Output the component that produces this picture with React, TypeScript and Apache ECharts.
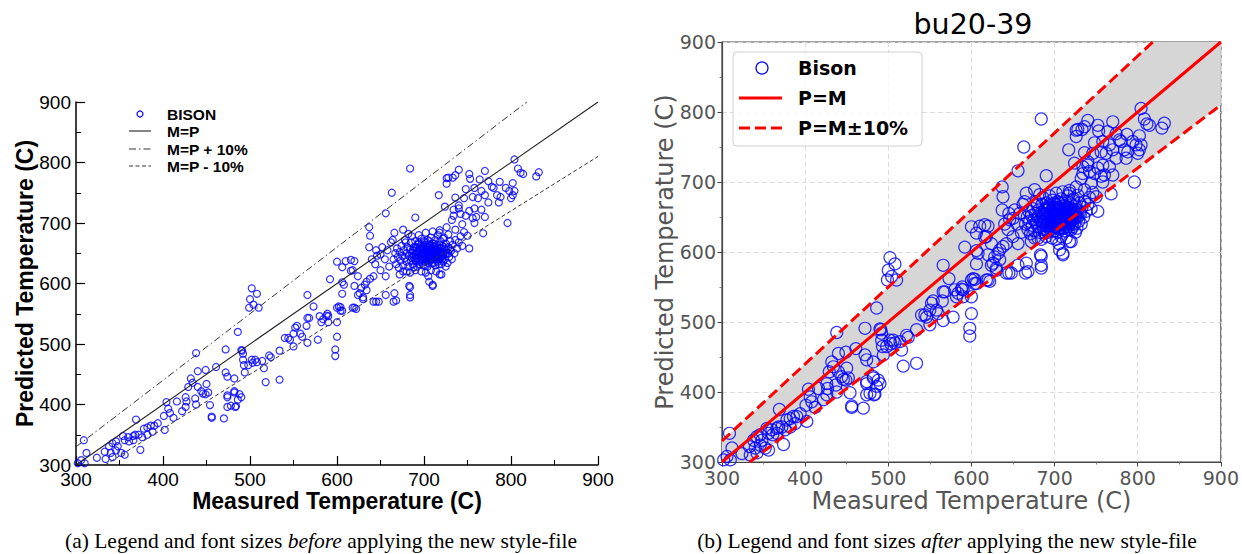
import React, { useEffect, useRef } from "react";
import * as echarts from "echarts";

// Axis range shared by both panels (degrees C)
const axisMin = 300;
const axisMax = 900;
const tickInterval = 100;

// Measured vs predicted temperatures for the BISON runs: [measured, predicted]
const lowRangePoints: [number, number][] = [
  [302, 303], [306, 308], [310, 303], [309, 341], [312, 320], [324, 312], [333, 322], [334, 310],
  [338, 331], [340, 320], [342, 313], [342, 336], [346, 324], [346, 339], [348, 331], [352, 320],
  [354, 348], [356, 317], [356, 341], [360, 346], [361, 339], [366, 341], [366, 348], [368, 350],
  [369, 375], [372, 350], [374, 325], [376, 346], [378, 360], [382, 350], [382, 362], [386, 365],
  [388, 355], [390, 365], [394, 369], [401, 381], [402, 358], [404, 404], [406, 393], [408, 386],
  [412, 378], [416, 405], [422, 389], [426, 396], [426, 412], [427, 405], [429, 429], [432, 443],
  [434, 436], [437, 410], [438, 400], [438, 485], [440, 429], [440, 455], [444, 422], [446, 418],
  [449, 417], [449, 457], [450, 434], [452, 420], [454, 399], [456, 378], [456, 380], [461, 462],
  [470, 377], [472, 491], [472, 453], [474, 446], [474, 396], [474, 412], [474, 415], [478, 398],
  [482, 443], [482, 420], [482, 422], [483, 396], [484, 397], [486, 408], [486, 520], [488, 417],
  [490, 412], [490, 490], [491, 489], [492, 484], [492, 474], [493, 465], [494, 453], [498, 465],
];

const midRangePoints: [number, number][] = [
  [499, 560], [500, 574], [502, 474], [502, 592], [503, 469], [504, 565], [506, 474], [508, 470],
  [508, 583], [510, 560], [514, 472], [516, 460], [518, 437], [522, 481], [524, 478], [534, 441],
  [534, 489], [540, 510], [544, 510], [546, 507], [550, 496], [550, 517], [552, 527], [554, 530],
  [558, 517], [560, 512], [565, 530], [566, 502], [566, 581], [566, 543], [568, 543], [573, 562],
  [578, 507], [580, 546], [582, 536], [584, 541], [588, 547], [590, 546], [590, 536], [589, 550],
  [592, 607], [598, 491], [598, 480], [600, 512], [600, 536], [600, 560], [600, 636], [602, 562],
  [604, 555], [604, 561], [606, 555], [606, 583], [606, 602], [606, 627], [608, 598], [610, 637],
  [616, 621], [616, 639], [618, 560], [618, 622], [620, 560], [620, 596], [620, 637], [622, 558],
  [624, 581], [624, 612], [626, 584], [628, 593], [630, 577], [630, 574], [632, 598], [634, 589],
  [634, 603], [637, 660], [637, 693], [638, 608], [638, 679], [642, 612], [642, 570], [645, 570],
  [646, 646], [648, 570], [650, 622], [656, 612], [656, 581], [656, 716], [663, 750], [664, 672],
  [665, 570], [666, 684], [666, 584], [668, 572], [672, 615], [676, 689], [680, 620], [682, 682],
  [683, 596], [684, 577], [684, 594], [684, 581], [684, 790], [688, 627], [690, 709], [705, 612],
  [706, 603], [710, 596], [710, 598], [718, 615], [640, 640], [644, 632], [650, 648], [652, 660],
  [655, 640], [658, 655], [660, 628], [662, 668], [645, 655],
];

const clusterPoints: [number, number][] = [
  [665, 640], [667, 650], [668, 632], [669, 658], [670, 644], [671, 626], [672, 652], [673, 638],
  [674, 662], [675, 646], [676, 630], [677, 655], [678, 642], [679, 668], [680, 650], [680, 636],
  [681, 660], [682, 628], [683, 646], [684, 656], [685, 638], [685, 668], [686, 650], [687, 632],
  [688, 660], [688, 644], [689, 654], [690, 638], [690, 670], [691, 648], [692, 628], [692, 660],
  [693, 642], [694, 652], [694, 666], [695, 636], [696, 646], [696, 658], [697, 674], [698, 640],
  [698, 650], [699, 630], [699, 662], [700, 645], [700, 655], [701, 668], [701, 636], [702, 650],
  [703, 642], [703, 660], [704, 628], [704, 672], [705, 648], [705, 656], [706, 638], [706, 664],
  [707, 650], [708, 644], [708, 676], [709, 634], [709, 658], [710, 652], [710, 666], [711, 640],
  [712, 648], [712, 660], [713, 630], [713, 672], [714, 654], [715, 644], [715, 664], [716, 636],
  [716, 680], [717, 650], [718, 658], [719, 642], [719, 670], [720, 632], [720, 652], [721, 662],
  [722, 646], [723, 676], [724, 640], [724, 656], [725, 666], [726, 650], [727, 634], [728, 660],
  [729, 644], [730, 670], [731, 654], [732, 640], [733, 664], [735, 650], [736, 672], [738, 658],
  [740, 668], [742, 678], [744, 662], [746, 685], [676, 620], [684, 618], [690, 622], [697, 620],
  [702, 618], [708, 622], [714, 620], [725, 628], [694, 680], [702, 684], [710, 686], [718, 688],
  [686, 678], [678, 672],
];

// Densest part of the cluster around 700 C
const clusterCorePoints: [number, number][] = [
  [686, 642], [687, 655], [689, 647], [690, 660], [691, 641], [692, 652], [693, 664], [694, 645],
  [695, 656], [696, 639], [697, 650], [697, 662], [698, 644], [699, 655], [700, 640], [700, 650],
  [700, 660], [701, 646], [702, 656], [702, 664], [703, 638], [703, 652], [704, 645], [704, 660],
  [705, 642], [705, 652], [706, 656], [706, 646], [707, 640], [707, 662], [708, 650], [708, 655],
  [709, 645], [709, 640], [710, 657], [710, 646], [711, 652], [711, 662], [712, 643], [712, 654],
  [713, 648], [713, 658], [714, 640], [714, 646], [715, 652], [716, 645], [716, 658], [717, 640],
  [718, 650], [718, 664], [719, 647], [720, 645], [720, 658], [721, 640], [722, 652], [723, 660],
  [724, 648], [726, 656], [728, 650], [730, 657], [691, 636], [695, 632], [701, 630], [705, 634],
  [711, 634], [717, 632], [694, 668], [700, 670], [706, 670], [712, 666],
];

const highRangePoints: [number, number][] = [
  [718, 684], [717, 746], [720, 615], [722, 636], [722, 674], [724, 727], [726, 693], [726, 765],
  [726, 774], [728, 681], [728, 775], [732, 705], [733, 775], [734, 712], [734, 722], [736, 779],
  [736, 742], [736, 689], [740, 724], [740, 729], [740, 788], [742, 715], [744, 698], [746, 741],
  [748, 712], [748, 756], [750, 679], [752, 720], [752, 658], [752, 781], [753, 773], [756, 708],
  [756, 743], [758, 724], [758, 758], [758, 700], [760, 710], [762, 741], [764, 772], [766, 722],
  [766, 753], [768, 683], [770, 746], [770, 710], [770, 786], [774, 769], [774, 734], [778, 760],
  [780, 758], [784, 746], [786, 734], [787, 768], [788, 743], [794, 758], [796, 700], [798, 753],
  [800, 741], [802, 746], [802, 766], [804, 753], [804, 805], [808, 790], [811, 783], [814, 781],
  [829, 777], [832, 784],
];

const bisonPoints: [number, number][] = [
  ...lowRangePoints,
  ...midRangePoints,
  ...clusterPoints,
  ...clusterCorePoints,
  ...highRangePoints,
];

// Reference lines: prediction equals measurement, and +/-10 % of it
const identityLine: [number, number][] = [[300, 300], [900, 900]];
const plusTenLine: [number, number][] = [[300, 330], [900 / 1.1, 900]];
const minusTenLine: [number, number][] = [[300 / 0.9, 300], [900, 810]];
// Shaded band between the two 10 % lines, within the plotted square
const bandVertices: [number, number][] = [
  [300, 300], [300, 330], [900 / 1.1, 900], [900, 900], [900, 810], [300 / 0.9, 300],
];

const BLUE = "#0000ff";
const RED = "#ff0000";

function leftAxis(name: string, isX: boolean) {
  return {
    gridIndex: 0,
    type: "value" as const,
    min: axisMin,
    max: axisMax,
    interval: tickInterval,
    name,
    nameLocation: "middle" as const,
    nameGap: isX ? 26 : 41,
    nameMoveOverlap: false,
    nameTextStyle: {
      color: "#000",
      fontSize: 23,
      lineHeight: 20,
      fontWeight: "bold" as const,
      fontFamily: "Liberation Sans",
    },
    axisLine: { show: true, lineStyle: { color: "#000", width: 1.5 } },
    axisTick: { show: true, inside: true, length: 9, lineStyle: { color: "#000", width: 1.2 } },
    minorTick: { show: true, splitNumber: 2, length: 5, lineStyle: { color: "#000", width: 1 } },
    splitLine: { show: false },
    axisLabel: {
      color: "#000",
      fontSize: 19,
      lineHeight: isX ? 15 : 13,
      fontFamily: "Liberation Sans",
      margin: isX ? 7 : 5,
    },
  };
}

function rightAxis(name: string, isX: boolean) {
  return {
    gridIndex: 1,
    type: "value" as const,
    min: axisMin,
    max: axisMax,
    interval: tickInterval,
    name,
    nameLocation: "middle" as const,
    nameGap: isX ? 27 : 45,
    nameMoveOverlap: false,
    nameTextStyle: {
      color: "#555",
      fontSize: 24,
      fontFamily: "DejaVu Sans",
    },
    axisLine: { show: true, lineStyle: { color: "#444", width: 1.2 } },
    axisTick: { show: true, inside: false, length: 4.5, lineStyle: { color: "#444", width: 1 } },
    minorTick: { show: true, splitNumber: 2, length: 2.5, lineStyle: { color: "#666", width: 0.8 } },
    splitLine: { show: true, lineStyle: { color: "#dcdcdc", width: 1, type: [5, 3] } },
    axisLabel: {
      color: "#555",
      fontSize: 19,
      fontFamily: "DejaVu Sans",
      margin: 6,
    },
  };
}

function refLine(
  data: [number, number][],
  gridIdx: number,
  color: string,
  width: number,
  type: any,
) {
  return {
    type: "line" as const,
    xAxisIndex: gridIdx,
    yAxisIndex: gridIdx,
    data,
    symbol: "none",
    showSymbol: false,
    silent: true,
    clip: true,
    z: 3,
    lineStyle: { color, width, type },
  };
}

export default function App() {
  const ref = useRef<HTMLDivElement>(null);

  useEffect(() => {
    if (!ref.current) return;
    const chart = echarts.init(ref.current, undefined, { renderer: "svg" });

    const legendTextLeft = {
      fill: "#000",
      fontSize: 15.5,
      fontWeight: "bold",
      fontFamily: "Liberation Sans",
      verticalAlign: "middle",
      align: "left",
    };
    const legendTextRight = {
      fill: "#000",
      fontSize: 19,
      fontWeight: "bold",
      fontFamily: "DejaVu Sans",
      verticalAlign: "middle",
      align: "left",
    };
    const captionStyle = {
      fill: "#000",
      fontSize: 21.5,
      fontFamily: "Liberation Serif",
      align: "center",
      verticalAlign: "middle",
      rich: {
        i: { fontStyle: "italic", fontSize: 21.5, fontFamily: "Liberation Serif", fill: "#000" },
      },
    };

    const option: any = {
      animation: false,
      backgroundColor: "#fff",
      title: {
        text: "bu20-39",
        left: 968,
        top: 5,
        textAlign: "center",
        textStyle: { fontSize: 28.5, fontWeight: "normal", fontFamily: "DejaVu Sans", color: "#000" },
      },
      grid: [
        { left: 76, top: 102, width: 522, height: 363, containLabel: false },
        {
          left: 722,
          top: 42,
          width: 500,
          height: 420,
          containLabel: false,
          show: true,
          borderColor: "#444",
          borderWidth: 1.2,
          backgroundColor: "transparent",
        },
      ],
      xAxis: [
        leftAxis("Measured Temperature (C)", true),
        rightAxis("Measured Temperature (C)", true),
      ],
      yAxis: [
        leftAxis("Predicted Temperature (C)", false),
        rightAxis("Predicted Temperature (C)", false),
      ],
      series: [
        {
          name: "BISON",
          type: "scatter",
          xAxisIndex: 0,
          yAxisIndex: 0,
          data: bisonPoints,
          symbol: "circle",
          symbolSize: 7,
          silent: true,
          z: 2,
          itemStyle: { color: "transparent", borderColor: BLUE, borderWidth: 1.2 },
        },
        { name: "M=P", ...refLine(identityLine, 0, "#222", 1.1, "solid") },
        { name: "M=P + 10%", ...refLine(plusTenLine, 0, "#333", 1, [7, 3, 1.5, 3]) },
        { name: "M=P - 10%", ...refLine(minusTenLine, 0, "#333", 1, [4, 2.5]) },
        {
          name: "band",
          type: "custom",
          xAxisIndex: 1,
          yAxisIndex: 1,
          data: [[axisMin, axisMin]],
          silent: true,
          z: 1,
          renderItem: (_params: any, api: any) => ({
            type: "polygon",
            shape: { points: bandVertices.map((p) => api.coord(p)) },
            style: { fill: "#d6d6d6" },
          }),
        },
        {
          name: "Bison",
          type: "scatter",
          xAxisIndex: 1,
          yAxisIndex: 1,
          data: bisonPoints,
          symbol: "circle",
          symbolSize: 12,
          silent: true,
          z: 2,
          itemStyle: { color: "transparent", borderColor: BLUE, borderWidth: 1.2 },
        },
        { name: "P=M", ...refLine(identityLine, 1, RED, 3, "solid") },
        { name: "P=M+10%", ...refLine(plusTenLine, 1, RED, 3, [11, 5]) },
        { name: "P=M-10%", ...refLine(minusTenLine, 1, RED, 3, [11, 5]) },
      ],
      graphic: [
        // Legend of the left panel
        {
          type: "circle",
          shape: { cx: 140, cy: 114, r: 3 },
          style: { fill: "none", stroke: BLUE, lineWidth: 1.2 },
        },
        { type: "text", x: 167, y: 114, style: { ...legendTextLeft, text: "BISON" } },
        {
          type: "line",
          shape: { x1: 129, y1: 131, x2: 151, y2: 131 },
          style: { stroke: "#222", lineWidth: 1.1 },
        },
        { type: "text", x: 167, y: 131, style: { ...legendTextLeft, text: "M=P" } },
        {
          type: "line",
          shape: { x1: 129, y1: 149, x2: 151, y2: 149 },
          style: { stroke: "#333", lineWidth: 1, lineDash: [7, 3, 1.5, 3] },
        },
        { type: "text", x: 167, y: 149, style: { ...legendTextLeft, text: "M=P + 10%" } },
        {
          type: "line",
          shape: { x1: 129, y1: 166, x2: 151, y2: 166 },
          style: { stroke: "#333", lineWidth: 1, lineDash: [4, 2.5] },
        },
        { type: "text", x: 167, y: 166, style: { ...legendTextLeft, text: "M=P - 10%" } },

        // Legend of the right panel
        {
          type: "rect",
          shape: { x: 733, y: 52, width: 189, height: 94, r: 4 },
          style: { fill: "rgba(255,255,255,0.85)", stroke: "#d0d0d0", lineWidth: 1 },
          z: 10,
        },
        {
          type: "circle",
          shape: { cx: 762, cy: 68, r: 6 },
          style: { fill: "none", stroke: BLUE, lineWidth: 1.2 },
          z: 11,
        },
        { type: "text", x: 798, y: 68, z: 11, style: { ...legendTextRight, text: "Bison" } },
        {
          type: "line",
          shape: { x1: 739, y1: 98, x2: 782, y2: 98 },
          style: { stroke: RED, lineWidth: 3 },
          z: 11,
        },
        { type: "text", x: 798, y: 98, z: 11, style: { ...legendTextRight, text: "P=M" } },
        {
          type: "line",
          shape: { x1: 739, y1: 128, x2: 782, y2: 128 },
          style: { stroke: RED, lineWidth: 3, lineDash: [11, 5] },
          z: 11,
        },
        { type: "text", x: 798, y: 128, z: 11, style: { ...legendTextRight, text: "P=M±10%" } },

        // Sub-figure captions
        {
          type: "text",
          x: 321,
          y: 541,
          style: {
            ...captionStyle,
            text: "(a) Legend and font sizes {i|before} applying the new style-file",
          },
        },
        {
          type: "text",
          x: 947,
          y: 541,
          style: {
            ...captionStyle,
            text: "(b) Legend and font sizes {i|after} applying the new style-file",
          },
        },
      ],
    };

    chart.setOption(option);
    return () => {
      chart.dispose();
    };
  }, []);

  return (
    <div
      ref={ref}
      style={{ position: "fixed", left: 0, top: 0, width: 1242, height: 554, background: "#fff" }}
    />
  );
}
